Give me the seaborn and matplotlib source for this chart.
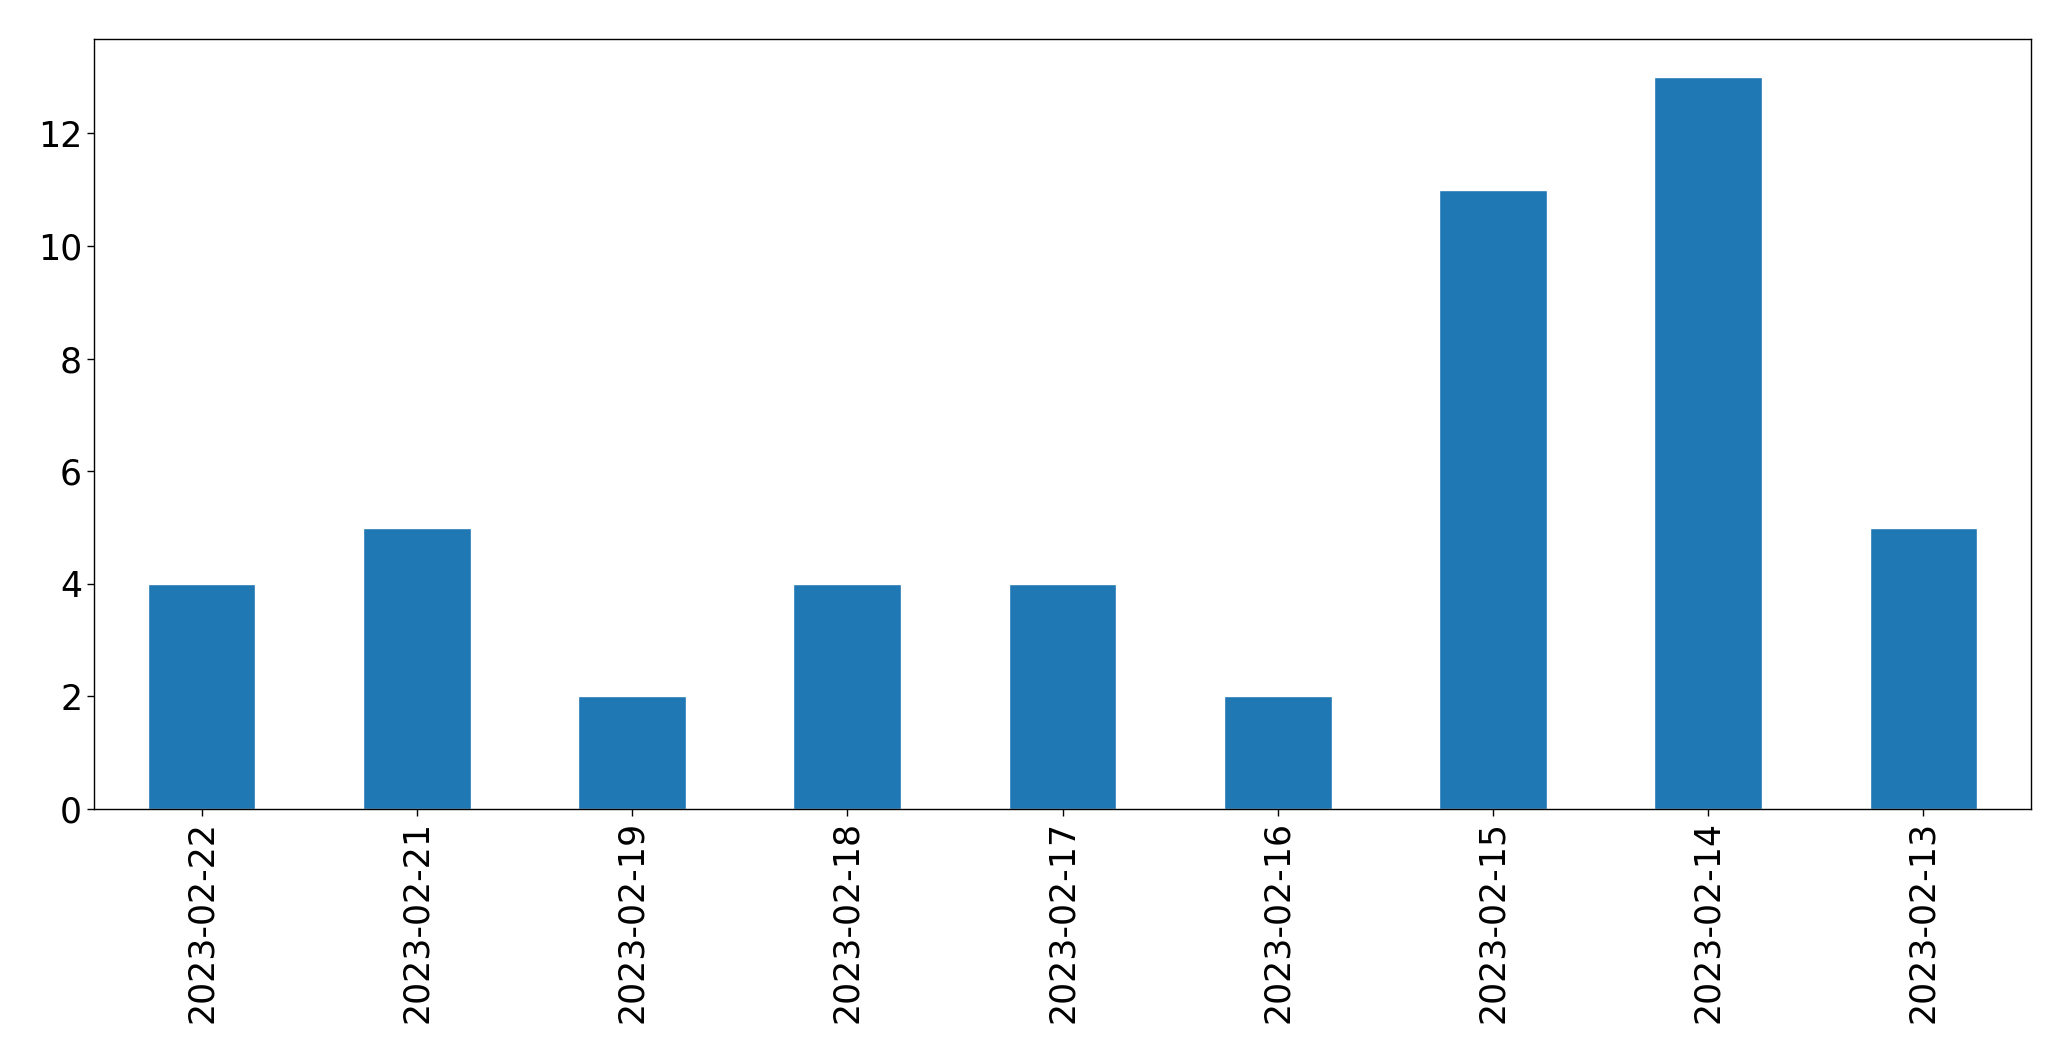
import pandas as pd
import seaborn as sns
import matplotlib
matplotlib.use("Agg")
import matplotlib.pyplot as plt

# values
dates = ["2023-02-22", "2023-02-21", "2023-02-19", "2023-02-18", "2023-02-17",
         "2023-02-16", "2023-02-15", "2023-02-14", "2023-02-13"]
counts = [4, 5, 2, 4, 4, 2, 11, 13, 5]

df = pd.DataFrame({"date": dates, "count": counts})

sns.set_style("ticks")
plt.rcParams["font.family"] = ["DejaVu Sans"]

fig, ax = plt.subplots(figsize=(20.71, 10.61), dpi=100)
fig.subplots_adjust(left=0.0454, right=0.9807, top=0.9628, bottom=0.2375)

sns.barplot(data=df, x="date", y="count", color="#1f77b4", saturation=1,
            width=0.5, ax=ax)

ax.set_xlim(-0.5, len(dates) - 0.5)
ax.set_ylim(0, 13.67)
ax.set_xlabel("")
ax.set_ylabel("")
ax.tick_params(axis="both", labelsize=25, length=5, width=1,
               color="black", labelcolor="black")
plt.setp(ax.get_xticklabels(), rotation=90)
for s in ax.spines.values():
    s.set_visible(True)
    s.set_color("black")
    s.set_linewidth(1)

fig.savefig("out.png", dpi=100)
